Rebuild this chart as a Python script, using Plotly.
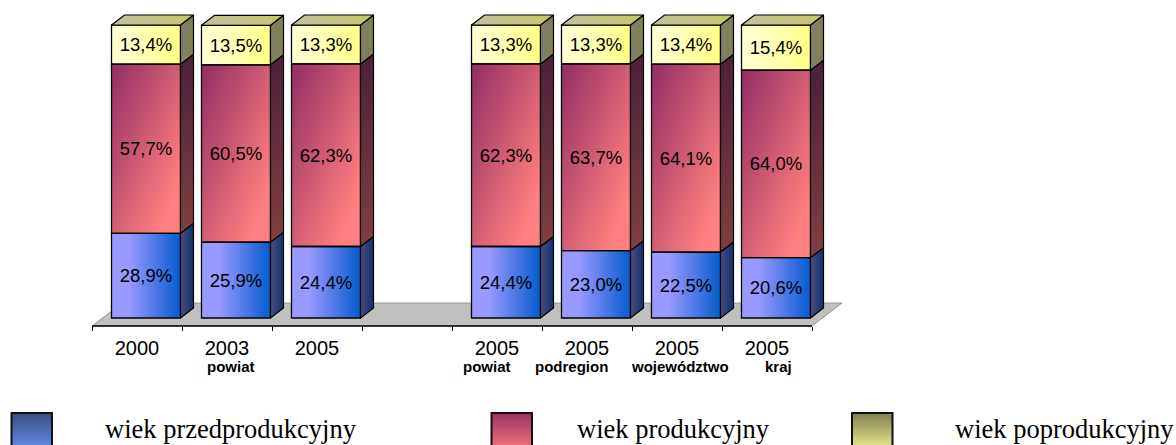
import base64
import plotly.graph_objects as go

# ---- data ----
positions = [0, 1, 2, 4, 5, 6, 7]
tick_years = ["2000", "2003", "2005", "2005", "2005", "2005", "2005"]
przedprodukcyjny = [28.9, 25.9, 24.4, 24.4, 23.0, 22.5, 20.6]
produkcyjny = [57.7, 60.5, 62.3, 62.3, 63.7, 64.1, 64.0]
poprodukcyjny = [13.4, 13.5, 13.3, 13.3, 13.3, 13.4, 15.4]
sub_labels = ["powiat", "powiat", "podregion", "województwo", "kraj"]
sub_label_x = [1.04, 3.89, 4.83, 6.03, 7.13]
legend_names = ["wiek przedprodukcyjny", "wiek produkcyjny", "wiek poprodukcyjny"]

# ---- layout constants ----
W, H = 1176, 445
X0_PX, X1_PX = 92, 812          # axis extent
BASE_PX = 326                   # axis line
BAR0_PX, PX_PER_PCT = 318, 2.93
CAT_PX = (X1_PX - X0_PX) / 8
BAR_W = 69 / CAT_PX
BAR_OFF = (9 - 34.5) / CAT_PX
DX, DY = 13 / CAT_PX, 10 / PX_PER_PCT
y_low = -(BASE_PX - BAR0_PX) / PX_PER_PCT
y_high = BAR0_PX / PX_PER_PCT
x_low = -0.5 - X0_PX / CAT_PX
x_high = 7.5 + (W - X1_PX) / CAT_PX


def grad_uri(stops, x2=0, y2=0):
    st = "".join(f'<stop offset="{o}" stop-color="{c}"/>' for o, c in stops)
    svg = ('<svg xmlns="http://www.w3.org/2000/svg" width="100" height="100" viewBox="0 0 100 100" '
           'preserveAspectRatio="none"><defs><linearGradient id="g" x1="0" y1="0" '
           f'x2="{x2}" y2="{y2}">{st}</linearGradient></defs>'
           '<rect width="100" height="100" fill="url(#g)"/></svg>')
    return "data:image/svg+xml;base64," + base64.b64encode(svg.encode()).decode()


series = [
    dict(name=legend_names[0], vals=przedprodukcyjny,
         front=grad_uri([(0, "#9999ff"), (0.25, "#9999ff"), (0.95, "#0f5fcf"), (1, "#0f5fcf")], x2=1),
         side=dict(type="horizontal", colorscale=[[0, "#4d4d80"], [1, "#102f68"]]),
         swatch=grad_uri([(0, "#3d4c7c"), (1, "#6699ff")], y2=1)),
    dict(name=legend_names[1], vals=produkcyjny,
         front=grad_uri([(0, "#993366"), (0.06, "#993366"), (0.85, "#ff8080"), (1, "#ff8080")], x2=1, y2=1),
         side=dict(type="vertical", colorscale=[[0, "#7f4040"], [1, "#4d1f3a"]]),
         swatch=grad_uri([(0, "#993366"), (1, "#ff8080")], y2=1)),
    dict(name=legend_names[2], vals=poprodukcyjny,
         front=grad_uri([(0, "#ffffd0"), (0.2, "#ffffcc"), (0.95, "#ffff88"), (1, "#ffff88")], x2=1),
         side=dict(type="horizontal", colorscale=[[0, "#80806a"], [1, "#7f7f50"]]),
         swatch=grad_uri([(0, "#7f7f50"), (1, "#ffff99")], y2=1)),
]

fig = go.Figure()
images, shapes, annotations = [], [], []
bases = [0.0] * len(positions)
faces = []
for s in series:
    text = [f"{v:.1f}%".replace(".", ",") for v in s["vals"]]
    fig.add_trace(go.Bar(
        x=positions, y=s["vals"], base=bases, name=s["name"], text=text,
        textposition="inside", insidetextanchor="middle", textangle=0,
        constraintext="none",
        textfont=dict(family="Liberation Sans", size=18.5, color="#000000"),
        width=BAR_W, offset=BAR_OFF, showlegend=False, hoverinfo="skip",
        marker=dict(color="rgba(0,0,0,0)", line=dict(color="#000000", width=1.3)),
    ))
    for p, b, v in zip(positions, bases, s["vals"]):
        x0 = p + BAR_OFF
        x1 = x0 + BAR_W
        images.append(dict(source=s["front"], xref="x", yref="y", x=x0, y=b + v,
                           sizex=BAR_W, sizey=v, xanchor="left", yanchor="top",
                           sizing="stretch", layer="below"))
        faces.append(([x1, x1 + DX, x1 + DX, x1, x1], [b, b + DY, b + v + DY, b + v, b], s["side"]))
    bases = [b + v for b, v in zip(bases, s["vals"])]

# top faces
for p, b in zip(positions, bases):
    x0 = p + BAR_OFF
    x1 = x0 + BAR_W
    faces.append(([x0, x1, x1 + DX, x0 + DX, x0], [b, b, b + DY, b + DY, b],
                  dict(type="horizontal", colorscale=[[0, "#c0c09c"], [1, "#c6c668"]])))

for fx, fy, grad in faces:
    fig.add_trace(go.Scatter(
        x=fx, y=fy, mode="lines", fill="toself", fillgradient=grad,
        line=dict(color="#000000", width=1.2),
        showlegend=False, hoverinfo="skip",
    ))


def px(x):
    return x / W


def py(y):
    return 1 - y / H


# floor
fl = [(92, 326), (812, 326), (842, 303), (122, 303)]
shapes.append(dict(type="path", xref="paper", yref="paper", layer="below",
                   path="M " + " L ".join(f"{px(a)} {py(b)}" for a, b in fl) + " Z",
                   fillcolor="#c0c0c0", line=dict(color="#808080", width=0.75)))
# category axis line
shapes.append(dict(type="line", xref="x", yref="paper", x0=-0.5, x1=7.5, y0=py(BASE_PX), y1=py(BASE_PX),
                   layer="above", line=dict(color="#000000", width=1.5)))

# sub labels
for lab, xv in zip(sub_labels, sub_label_x):
    annotations.append(dict(text=f"<b>{lab}</b>", x=xv, y=py(366), xref="x", yref="paper",
                            showarrow=False, xanchor="center", yanchor="middle",
                            font=dict(family="Liberation Sans", size=15, color="#000000")))

# legend
sw_x = [11.5, 491.5, 852]
txt_x = [103, 575, 953]
for s, sx, tx in zip(series, sw_x, txt_x):
    images.append(dict(source=s["swatch"], xref="paper", yref="paper", x=px(sx), y=py(413),
                       sizex=40.5 / W, sizey=42 / H, xanchor="left", yanchor="top",
                       sizing="stretch", layer="above"))
    shapes.append(dict(type="rect", xref="paper", yref="paper", x0=px(sx), x1=px(sx + 40.5),
                       y0=py(455), y1=py(413), layer="above",
                       line=dict(color="#111111", width=2), fillcolor="rgba(0,0,0,0)"))
    annotations.append(dict(text=s["name"], x=px(tx), y=py(429), xref="paper", yref="paper",
                            showarrow=False, xanchor="left", yanchor="middle",
                            font=dict(family="Liberation Serif", size=26.5, color="#000000")))

fig.update_layout(
    width=W, height=H, autosize=False,
    margin=dict(l=0, r=0, t=0, b=0),
    paper_bgcolor="white", plot_bgcolor="rgba(0,0,0,0)",
    barmode="overlay", showlegend=False,
    images=images, shapes=shapes, annotations=annotations,
    xaxis=dict(domain=[0, 1], range=[x_low, x_high], showgrid=False, zeroline=False,
               showline=False,
               tickmode="array", tickvals=positions, ticktext=tick_years, ticks="",
               ticklabelstandoff=8,
               tickfont=dict(family="Liberation Sans", size=20, color="#000000"),
               minor=dict(tickmode="array", tickvals=[i - 0.5 for i in range(9)], ticks="outside",
                          ticklen=4, tickcolor="#000000", tickwidth=1, showgrid=False)),
    yaxis=dict(domain=[py(BASE_PX), 1], range=[y_low, y_high], visible=False),
)

fig.write_html("out.html", config=dict(displayModeBar=False),
               post_script="document.body.style.margin='0';document.documentElement.style.overflow='hidden';")
